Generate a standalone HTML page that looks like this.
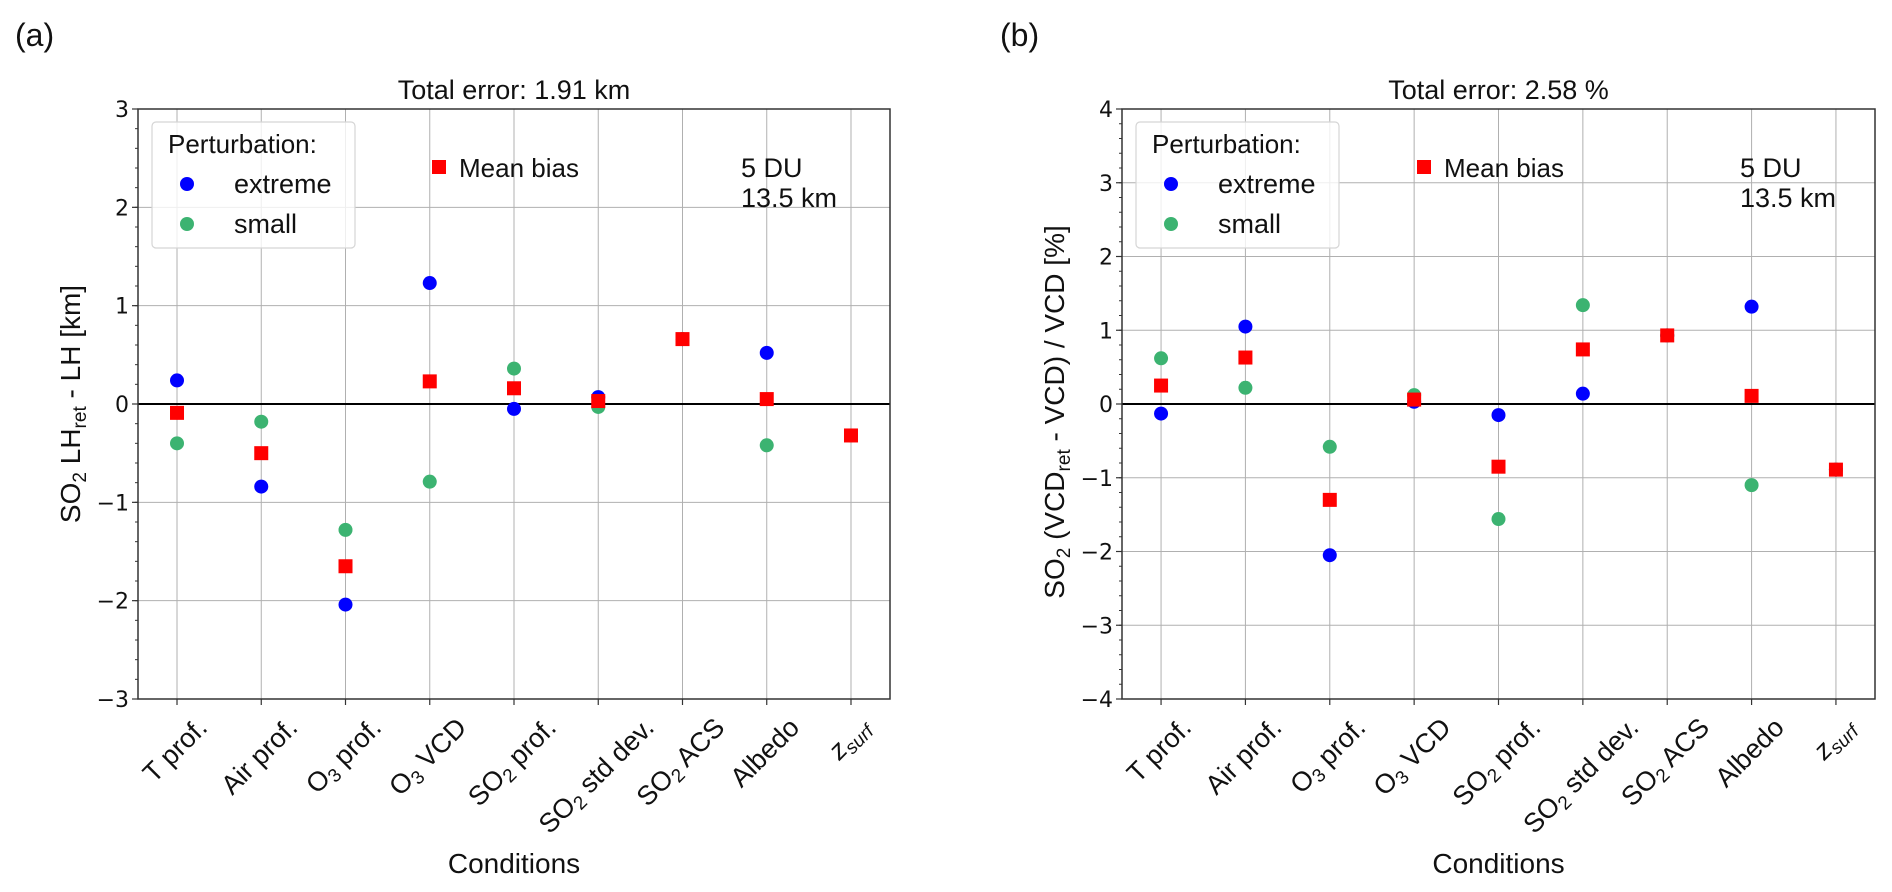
<!DOCTYPE html>
<html><head><meta charset="utf-8"><style>
html,body{margin:0;padding:0;background:#fff;}
svg{display:block;font-family:"Liberation Sans","DejaVu Sans",sans-serif;}
</style></head><body>
<svg id="fig" width="1892" height="892" viewBox="0 0 1892 892" xmlns="http://www.w3.org/2000/svg">
<rect width="1892" height="892" fill="#fff"/>
</svg>
<script>
const categories = ["T prof.","Air prof.","O3 prof.","O3 VCD","SO2 prof.","SO2 std dev.","SO2 ACS","Albedo","zsurf"];
const lhExtreme = [0.24,-0.84,-2.04,1.23,-0.05,0.07,0.66,0.52,-0.32];
const lhSmall   = [-0.40,-0.18,-1.28,-0.79,0.36,-0.03,0.66,-0.42,-0.32];
const lhMean    = [-0.09,-0.50,-1.65,0.23,0.16,0.03,0.66,0.05,-0.32];
const vcdExtreme = [-0.13,1.05,-2.05,0.03,-0.15,0.14,0.93,1.32,-0.89];
const vcdSmall   = [0.62,0.22,-0.58,0.12,-1.56,1.34,0.93,-1.10,-0.89];
const vcdMean    = [0.25,0.63,-1.30,0.06,-0.85,0.74,0.93,0.11,-0.89];
const lhTicks = [3,2,1,0,-1,-2,-3];
const vcdTicks = [4,3,2,1,0,-1,-2,-3,-4];

const NS="http://www.w3.org/2000/svg";
const svg=document.getElementById('fig');
function el(tag,attrs,parent){const e=document.createElementNS(NS,tag);for(const k in attrs)e.setAttribute(k,attrs[k]);(parent||svg).appendChild(e);return e;}

function labelHTML(t, e){
  const parts={"O3":["O","3"],"SO2":["SO","2"]};
  if(t==="zsurf"){
    const a=el('tspan',{'font-style':'italic'},e);a.textContent='z';
    const b=el('tspan',{'font-style':'italic','font-size':'19','dy':'5'},e);b.textContent='surf';
    return;
  }
  let m=t.match(/^(O3|SO2)(.*)$/);
  if(m){
    const a=el('tspan',{},e);a.textContent=parts[m[1]][0];
    const b=el('tspan',{'font-size':'19','dy':'5'},e);b.textContent=parts[m[1]][1];
    const c=el('tspan',{'dy':'-5'},e);c.textContent=m[2];
  } else e.textContent=t;
}

function panel(o){
  const g=el('g',{});
  
  
  const L=o.left,R=o.right,T=109,B=699;
  const x=i=>L+(i+0.463)*(R-L)/8.926;
  const y=v=>T+(o.ymax-v)*(B-T)/(o.ymax-o.ymin);
  categories.forEach((c,i)=>{el('line',{x1:x(i),x2:x(i),y1:T,y2:B,stroke:'#b0b0b0','stroke-width':1},g);});
  o.ticks.forEach(t=>{if(t!==o.ymax&&t!==o.ymin)el('line',{x1:L,x2:R,y1:y(t),y2:y(t),stroke:'#b0b0b0','stroke-width':1},g);});
  for(let v=o.ymin;v<=o.ymax+1e-9;v+=0.2){el('line',{x1:L-3,x2:L,y1:y(v),y2:y(v),stroke:'#333','stroke-width':1},g);}
  o.ticks.forEach(t=>{
    el('line',{x1:L-6,x2:L,y1:y(t),y2:y(t),stroke:'#333','stroke-width':1.2},g);
    const tx=el('text',{x:L-9,y:y(t)+8,'text-anchor':'end','font-size':22,fill:'#111','font-family':'DejaVu Sans, sans-serif'},g);
    
    
    tx.textContent=t<0?'\u2212'+Math.abs(t):String(t);
  });
  el('line',{x1:L,x2:R,y1:y(0),y2:y(0),stroke:'#000','stroke-width':2},g);
  categories.forEach((c,i)=>{
    el('line',{x1:x(i),x2:x(i),y1:B,y2:B+6,stroke:'#333','stroke-width':1.2},g);
    const t=el('text',{'font-size':27,'text-anchor':'middle',fill:'#111'},g);
    
    
    labelHTML(c,t);
    const w=t.getComputedTextLength?t.getComputedTextLength():c.length*13;
    const cy=B+16+(w+22)*0.707/2;
    t.setAttribute('x',0);t.setAttribute('y',9);
    t.setAttribute('transform',`translate(${x(i)-2},${cy}) rotate(-45)`);
  });
  el('rect',{x:L,y:T,width:R-L,height:B-T,fill:'none',stroke:'#333','stroke-width':1.5},g);
  const draw=(arr,kind,color,nm)=>arr.forEach((v,i)=>{
    let m;
    if(kind==='c') m=el('circle',{cx:x(i),cy:y(v),r:7,fill:color},g);
    else m=el('rect',{x:x(i)-7,y:y(v)-7,width:14,height:14,fill:color},g);
    
    
  });
  draw(o.ext,'c','#0000ff','point-extreme');
  draw(o.sm,'c','#3cb371','point-small');
  draw(o.mean,'s','#ff0000','point-mean-bias');
  const tt=el('text',{x:(L+R)/2,y:99,'text-anchor':'middle','font-size':27,fill:'#111'},g);
  
  tt.textContent=o.title;
  const pl=el('text',{x:o.letterX,y:46,'font-size':32,fill:'#111'},g);
  
  pl.textContent=o.letter;
  const lg=el('g',{},g);
  
  el('rect',{x:L+14,y:122,width:203,height:126,rx:4,fill:'#fff','fill-opacity':0.8,stroke:'#d5d5d5','stroke-width':1.2},lg);
  const lt=el('text',{x:L+30,y:153,'font-size':26,fill:'#111'},lg);lt.textContent='Perturbation:';
  el('circle',{cx:L+49,cy:184,r:7,fill:'#0000ff'},lg);
  const l1=el('text',{x:L+96,y:193,'font-size':27,fill:'#111'},lg);l1.textContent='extreme';
  el('circle',{cx:L+49,cy:224,r:7,fill:'#3cb371'},lg);
  const l2=el('text',{x:L+96,y:233,'font-size':27,fill:'#111'},lg);l2.textContent='small';
  const mb=el('g',{},g);
  el('rect',{x:o.mbX-7,y:160,width:14,height:14,fill:'#ff0000'},mb);
  const mt=el('text',{x:o.mbX+20,y:177,'font-size':26,fill:'#111'},mb);mt.textContent='Mean bias';
  const a1=el('text',{x:o.duX,y:177,'font-size':27,fill:'#111'},g);a1.textContent='5 DU';
  
  const a2=el('text',{x:o.duX,y:207,'font-size':27,fill:'#111'},g);a2.textContent='13.5 km';
  
  const xl=el('text',{x:(L+R)/2,y:873,'text-anchor':'middle','font-size':28,fill:'#111'},g);
  
  xl.textContent='Conditions';
  const yl=el('text',{x:0,y:0,'text-anchor':'middle','font-size':28,fill:'#111',transform:`translate(${o.ylabX},${o.ylabY}) rotate(-90)`},g);
  
  o.ylab.forEach(p=>{const s=el('tspan',p[1]||{},yl);s.textContent=p[0];});
}

panel({name:'panel-a-layer-height',left:138,right:890,ymin:-3,ymax:3,ticks:lhTicks,ext:lhExtreme,sm:lhSmall,mean:lhMean,
  title:'Total error: 1.91 km',letter:'(a)',letterX:15,mbX:439,duX:741,ylabX:80,ylabY:404,
  ylab:[['SO'],['2',{'font-size':19,'dy':6}],[' LH',{'dy':-6}],['ret',{'font-size':19,'dy':6}],[' - LH [km]',{'dy':-6}]]});
panel({name:'panel-b-vcd',left:1122,right:1875,ymin:-4,ymax:4,ticks:vcdTicks,ext:vcdExtreme,sm:vcdSmall,mean:vcdMean,
  title:'Total error: 2.58 %',letter:'(b)',letterX:1000,mbX:1424,duX:1740,ylabX:1064,ylabY:412,
  ylab:[['SO'],['2',{'font-size':19,'dy':6}],[' (VCD',{'dy':-6}],['ret',{'font-size':19,'dy':6}],[' - VCD) / VCD [%]',{'dy':-6}]]});
</script>
</body></html>
